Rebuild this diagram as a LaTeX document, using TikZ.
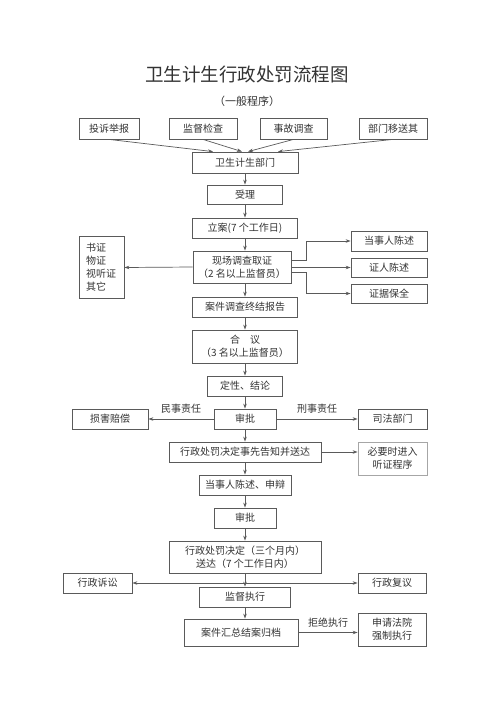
\documentclass[tikz,border=0pt]{standalone}
\usepackage{fontspec}
\setmainfont{Noto Sans CJK SC}
\usetikzlibrary{arrows.meta}
\definecolor{linegray}{HTML}{5A5A5A}
\definecolor{textgray}{HTML}{333333}
\begin{document}
\begin{tikzpicture}[x=1pt,y=-1pt,
	box/.style={draw=linegray, line width=0.8pt, inner sep=0pt, minimum height=20pt, align=center, text=textgray, font=\fontsize{10}{13}\selectfont},
	arr/.style={-{Stealth[length=5pt,width=3.5pt]}, draw=linegray, line width=0.7pt},
	lab/.style={text=textgray, font=\fontsize{10}{12}\selectfont}]
	\useasboundingbox[fill=white] (0,0) rectangle (500,707);
	% title
	\node[text=textgray, font=\fontsize{18.5}{18.5}\selectfont] (title) at (247,74) {卫生计生行政处罚流程图};
	\node[text=textgray, font=\fontsize{11}{11}\selectfont] (subtitle) at (247,101) {（一般程序）};
	% sources
	\node[box, minimum width=60pt, minimum height=21pt] (tousu) at (109,128.5) {投诉举报};
	\node[box, minimum width=68pt, minimum height=21pt] (jiandu) at (203,128.5) {监督检查};
	\node[box, minimum width=67pt, minimum height=21pt] (shigu) at (293.5,128.5) {事故调查};
	\node[box, minimum width=68pt, minimum height=21pt] (bumen) at (393,128.5) {部门移送其};
	% main column
	\node[box, minimum width=106pt, minimum height=21pt] (weisheng) at (245,162.5) {卫生计生部门};
	\node[box, minimum width=75pt, minimum height=19pt] (shouli) at (245,194.5) {受理};
	\node[box, minimum width=105pt] (lian) at (245,228) {立案(7 个工作日)};
	\node[box, minimum width=98pt, minimum height=32pt] (xianchang) at (242,267) {现场调查取证\\（2 名以上监督员）};
	\node[box, minimum width=105pt] (baogao) at (245,307) {案件调查终结报告};
	\node[box, minimum width=105pt, minimum height=33pt] (heyi) at (245,346.5) {合\quad 议\\（3 名以上监督员）};
	\node[box, minimum width=75pt] (dingxing) at (245,386) {定性、结论};
	\node[box, minimum width=62pt] (shenpi) at (245,419) {审批};
	\node[box, minimum width=152pt] (gaozhi) at (245,452) {行政处罚决定事先告知并送达};
	\node[box, minimum width=92pt] (shenbian) at (245,485) {当事人陈述、申辩};
	\node[box, minimum width=62pt] (shenpi2) at (245,518) {审批};
	\node[box, minimum width=152pt, minimum height=32pt] (jueding) at (245,557) {行政处罚决定（三个月内）\\送达（7 个工作日内）};
	\node[box, minimum width=91pt] (zhixing) at (245,597) {监督执行};
	\node[box, minimum width=114pt, minimum height=27pt] (guidang) at (241,632.5) {案件汇总结案归档};
	% side boxes
	\node[box, text width=31pt, inner sep=7pt, minimum height=59pt, align=left] (shuzheng) at (101.5,267.5) {书证\\物证\\视听证\\其它};
	\node[box, minimum width=76pt] (dangshi) at (389,241) {当事人陈述};
	\node[box, minimum width=76pt, minimum height=19pt] (zhengren) at (389,267.5) {证人陈述};
	\node[box, minimum width=76pt, minimum height=19pt] (baoquan) at (389,293.5) {证据保全};
	\node[box, minimum width=76pt] (sunhai) at (110,419) {损害赔偿};
	\node[box, minimum width=69pt] (sifa) at (392.5,419) {司法部门};
	\node[box, draw=gray!70, minimum width=69pt, minimum height=33pt] (tingzheng) at (392.5,458.5) {必要时进入\\听证程序};
	\node[box, minimum width=69pt] (susong) at (97.5,583) {行政诉讼};
	\node[box, minimum width=68pt] (fuyi) at (392,583) {行政复议};
	\node[box, minimum width=68pt, minimum height=33pt] (qiangzhi) at (392,629.5) {申请法院\\强制执行};
	% connectors
	\draw[arr] (tousu.south) -- ([xshift=-32pt]weisheng.north);
	\draw[arr] (jiandu.south) -- ([xshift=-3pt]weisheng.north);
	\draw[arr] (shigu.south) -- ([xshift=3pt]weisheng.north);
	\draw[arr] (bumen.south) -- ([xshift=33pt]weisheng.north);
	\foreach \a/\b in {weisheng/shouli, shouli/lian, lian/xianchang, xianchang/baogao, baogao/heyi, heyi/dingxing, dingxing/shenpi, shenpi/gaozhi, gaozhi/shenbian, shenbian/shenpi2, shenpi2/jueding, jueding/zhixing, zhixing/guidang}
		\draw[arr] (\a.south -| weisheng.south) -- (\b.north -| weisheng.south);
	\draw[arr] (xianchang.west) -- (shuzheng.east);
	\draw[arr] ([yshift=7pt]xianchang.east) -- ++(15,0) |- (dangshi.west);
	\draw[arr] (xianchang.east |- zhengren.west) -- (zhengren.west);
	\draw[arr] ([yshift=-5pt]xianchang.east) -- ++(15,0) |- (baoquan.west);
	\draw[arr] (shenpi.west) -- node[lab, above=2pt] (minshi) {民事责任} (sunhai.east);
	\draw[arr] (shenpi.east) -- node[lab, above=2pt] (xingshi) {刑事责任} (sifa.west);
	\draw[arr] (gaozhi.east) -- (gaozhi.east -| tingzheng.west);
	\draw[arr, {Stealth[length=5pt,width=3.5pt]}-{Stealth[length=5pt,width=3.5pt]}] (susong.east) -- (fuyi.west);
	\draw[arr] (guidang.east) -- node[lab, above=1pt] (jujue) {拒绝执行} (guidang.east -| qiangzhi.west);
\end{tikzpicture}
\end{document}
